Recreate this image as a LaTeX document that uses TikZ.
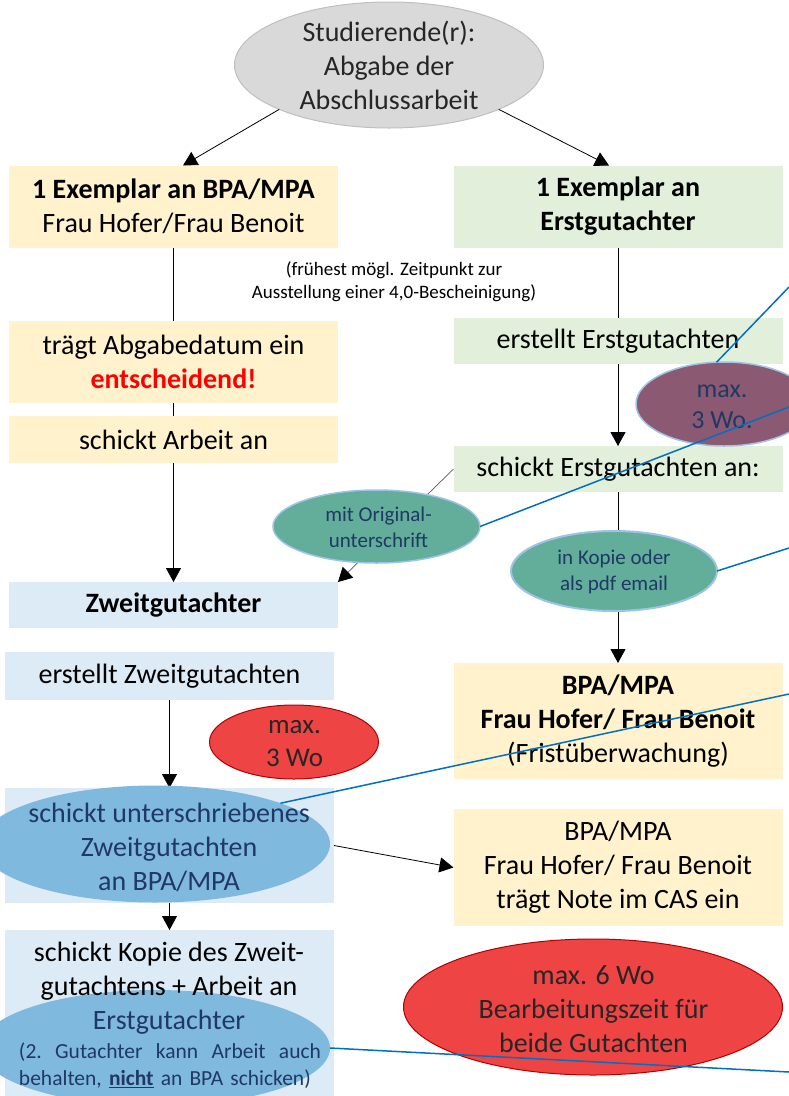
\documentclass[tikz,border=0pt]{standalone}
\usepackage{fontspec}
\setmainfont{Carlito}
\usetikzlibrary{shapes.geometric,arrows.meta,calc}
\definecolor{boxY}{HTML}{FFF2CC}
\definecolor{boxG}{HTML}{E2EFDA}
\definecolor{boxB}{HTML}{DDEBF7}
\definecolor{ellGray}{HTML}{D9D9D9}
\definecolor{ellTeal}{HTML}{62AE9B}
\definecolor{ellPurple}{HTML}{8B5A72}
\definecolor{ellRed}{HTML}{EF4444}
\definecolor{ellBlue}{HTML}{80B9DE}
\definecolor{navy}{HTML}{1F3864}
\definecolor{lineBlue}{HTML}{0070C0}
\definecolor{edgeBlue}{HTML}{9DC3E6}
\newcommand{\fsBig}{\fontsize{28}{34}\selectfont}
\newcommand{\fsMed}{\fontsize{21}{26}\selectfont}
\newcommand{\fsNote}{\fontsize{19}{23}\selectfont}
\newcommand{\fsSmall}{\fontsize{21.5}{27}\selectfont}
\newcommand{\fsPurp}{\fontsize{26}{31}\selectfont}
\newcommand{\fsRed}{\fontsize{27}{33}\selectfont}
\tikzset{
  box/.style={rectangle, inner sep=0pt, outer sep=0pt, font=\fsBig, align=center, text=black},
  ybox/.style={box, fill=boxY},
  gbox/.style={box, fill=boxG},
  bbox/.style={box, fill=boxB},
  ell/.style={ellipse, inner sep=0pt, outer sep=0pt},
  etxt/.style={align=center, inner sep=0pt},
  arr/.style={draw=black, line width=0.8pt, -{Triangle[width=15pt,length=14pt]}},
  plain/.style={draw=black, line width=0.8pt},
  greyarr/.style={draw=black!65, line width=0.7pt, -{Triangle[width=15pt,length=14pt,color=black]}},
  blueline/.style={draw=lineBlue, line width=1.5pt},
}
\begin{document}
\begin{tikzpicture}[x=1pt,y=-1pt]
\path[use as bounding box] (0,0) rectangle (789,1096);
\clip (0,0) rectangle (789,1096);

% top ellipse
\node[ell, fill=ellGray, draw=black!25, line width=1pt, minimum width=309pt, minimum height=126pt] (top) at (389,65) {};
\node[etxt, font=\fsBig, text=black!85] (topT) at (389,65.5) {Studierende(r):\\Abgabe der\\Abschlussarbeit};

% boxes
\node[ybox, minimum width=329pt, minimum height=82pt] (A) at (173.5,206.5) {\textbf{1 Exemplar an BPA/MPA}\\Frau Hofer/Frau Benoit};
\node[gbox, minimum width=329pt, minimum height=82pt] (B) at (618,206.5) {\textbf{1 Exemplar an}\\\textbf{Erstgutachter}};
\node[font=\fsNote, align=center, inner sep=0pt] (note) at (394,281.5) {(frühest mögl. Zeitpunkt zur\\Ausstellung einer 4,0-Bescheinigung)};
\node[ybox, minimum width=329pt, minimum height=82pt] (C) at (173.5,362) {trägt Abgabedatum ein\\\textcolor{red}{\textbf{entscheidend!}}};
\node[ybox, minimum width=329pt, minimum height=47pt] (E) at (173.5,439.5) {schickt Arbeit an};
\node[bbox, minimum width=329pt, minimum height=46pt] (F) at (173.5,605) {\textbf{Zweitgutachter}};
\node[gbox, minimum width=329pt, minimum height=46pt] (D) at (618,341) {erstellt Erstgutachten};
\node[gbox, minimum width=329pt, minimum height=46pt] (G) at (618,469) {schickt Erstgutachten an:};
\node[ybox, minimum width=329pt, minimum height=116pt] (J) at (618,721) {\textbf{BPA/MPA}\\\textbf{Frau Hofer/ Frau Benoit}\\(Fristüberwachung)};
\node[bbox, minimum width=329pt, minimum height=48pt] (K) at (169.5,676) {erstellt Zweitgutachten};
\node[bbox, minimum width=329pt, minimum height=115pt] (L) at (169.5,845.5) {};
\node[ybox, minimum width=329pt, minimum height=117pt] (J2) at (618,867.5) {BPA/MPA\\Frau Hofer/ Frau Benoit\\trägt Note im CAS ein};
\node[bbox, minimum width=329pt, minimum height=170pt] (M) at (169.5,1015) {};

% connectors
\draw[arr] (top.202) -- ($(A.north)+(9.5,0)$);
\draw[arr] (top.338) -- ($(B.north)+(-9,0)$);
\draw[plain] (A) -- (C);
\draw[plain] (C) -- (E);
\draw[arr] (E) -- (F);
\draw[plain] (B) -- (D);
\draw[arr] (D) -- (G);
\draw[arr] (G) -- (J);
\draw[arr] (K) -- (L);
\draw[arr] (L) -- (M);
\draw[arr] (L.east) -- (J2.west);
\draw[greyarr] (G.west) -- (F.north east);

% ellipses
\node[ell, fill=ellTeal, draw=edgeBlue, line width=1.5pt, minimum width=207pt, minimum height=73pt] (H) at (376.5,526.5) {};
\node[etxt, font=\fsMed, text=navy] (HT) at (378.5,527.5) {mit Original-\\unterschrift};
\node[ell, fill=ellTeal, draw=edgeBlue, line width=2pt, minimum width=206pt, minimum height=80pt] (I) at (614,571) {};
\node[etxt, font=\fsMed, text=navy] (IT) at (614,572) {in Kopie oder\\als pdf email};
\node[ell, fill=ellPurple, draw=edgeBlue, line width=1.5pt, minimum width=176pt, minimum height=84pt] (P) at (724,404) {};
\node[etxt, font=\fsPurp, text=navy] (PT) at (722,407) {max.\\3 Wo.};
\node[ell, fill=ellRed, draw=red!70!black, line width=1pt, minimum width=169pt, minimum height=74pt] (R1) at (294,742) {};
\node[etxt, font=\fsRed, text=black!85] (R1T) at (294.5,743.5) {max.\\3 Wo};
\node[ell, fill=ellRed, draw=red!70!black, line width=1pt, minimum width=379pt, minimum height=136pt] (R2) at (593,1007) {};
\node[etxt, font=\fsBig, text=black!85] (R2T) at (593.5,1009) {max. 6 Wo\\Bearbeitungszeit für\\beide Gutachten};
\node[ell, fill=ellBlue, minimum width=350pt, minimum height=117pt] (Lell) at (155,844) {};
\node[etxt, font=\fsBig, text=navy] (LT) at (169,847) {schickt unterschriebenes\\Zweitgutachten\\an BPA/MPA};
\node[ell, fill=ellBlue, minimum width=350pt, minimum height=116pt] (Mell) at (155,1048) {};
\node[etxt, font=\fsBig, text=black] (MT) at (169,988) {schickt Kopie des Zweit-\\gutachtens + Arbeit an\\\textcolor{navy}{Erstgutachter}};
\node[font=\fsSmall, text=navy, text width=302pt, inner sep=0pt] (MS) at (170,1065.5) {\noindent(2.\hfill Gutachter\hfill kann\hfill Arbeit\hfill auch\\behalten, \underline{\textbf{nicht}} an BPA schicken)};

% blue lines
\coordinate (e1) at (789,287);
\coordinate (e2) at (789,407);
\coordinate (e3) at (789,548);
\coordinate (e4) at (789,694);
\coordinate (e5) at (789,1072);
\draw[blueline] (P.100) -- (e1);
\draw[blueline] (H.east) -- (e2);
\draw[blueline] (I.east) -- (e3);
\draw[blueline] (Lell.18.7) -- (e4);
\draw[blueline] (Mell.east) -- (e5);
\end{tikzpicture}
\end{document}
